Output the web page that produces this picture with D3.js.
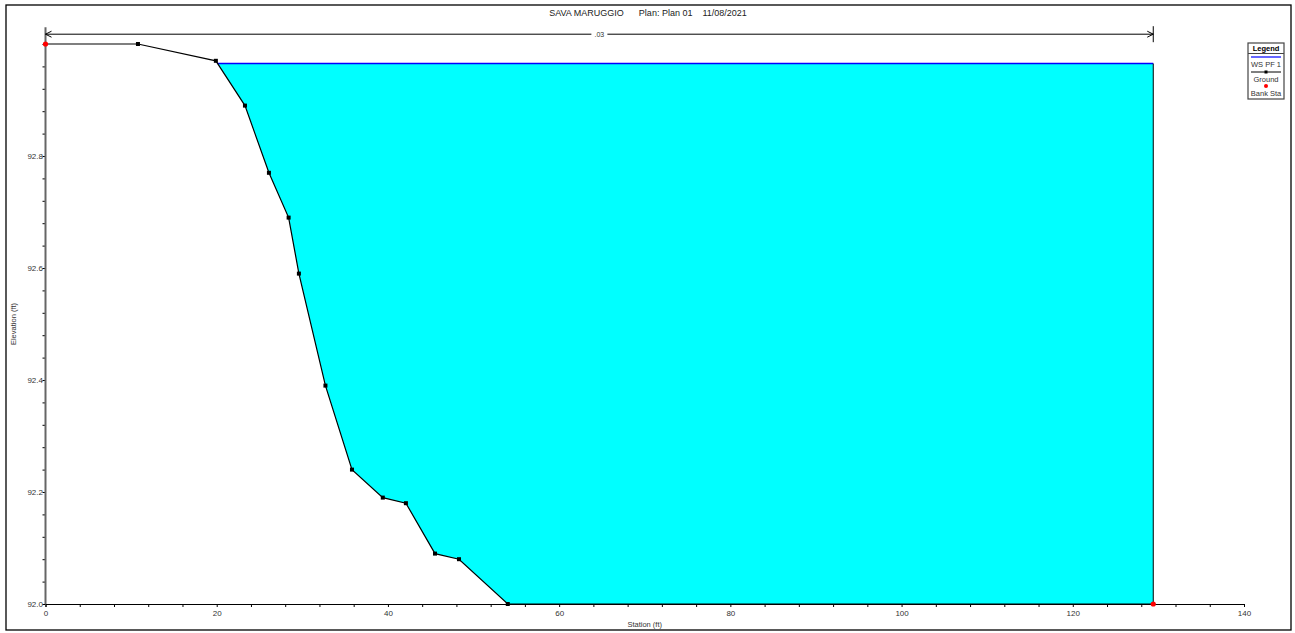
<!DOCTYPE html>
<html>
<head>
<meta charset="utf-8">
<script src="https://cdn.jsdelivr.net/npm/d3@7"></script>
<style>
  body { margin: 0; background: #fff; }
  text { font-family: "Liberation Sans", Arial, sans-serif; }
</style>
</head>
<body>
<script>
// ground points
var stations   = [0, 10.8, 19.9, 23.3, 26.1, 28.4, 29.6, 32.7, 35.8, 39.4, 42.1, 45.5, 48.3, 54.0, 129.4];
var elevations = [93.0, 93.0, 92.97, 92.89, 92.77, 92.69, 92.59, 92.39, 92.24, 92.19, 92.18, 92.09, 92.08, 92.0, 92.0];
var bankStations = [0, 129.4];
var wsElev = 92.965;
var nValue = ".03";
var xLabels = [0, 20, 40, 60, 80, 100, 120, 140];
var yLabels = [92.0, 92.2, 92.4, 92.6, 92.8];
var titleText = "SAVA MARUGGIO      Plan: Plan 01    11/08/2021";
var legendItems = ["WS PF 1", "Ground", "Bank Sta"];

var W = 1295, H = 633;
var svg = d3.select("body").append("svg").attr("width", W).attr("height", H);

var x = d3.scaleLinear().domain([0, 140]).range([45.5, 1244]);
var y = d3.scaleLinear().domain([92, 93]).range([604, 44]);
var yTop = 93.03;

// outer frame
svg.append("rect").attr("x", 6).attr("y", 5).attr("width", 1285).attr("height", 625)
  .attr("fill", "none").attr("stroke", "#000").attr("stroke-width", 1.3);

svg.append("text").attr("x", 648).attr("y", 16).attr("text-anchor", "middle")
  .attr("font-size", 9).attr("fill", "#222").style("white-space", "pre")
  .attr("xml:space", "preserve").text(titleText);

var ground = stations.map(function (s, i) { return [s, elevations[i]]; });

// water polygon: ground under the WS level, closed along the WS line
function wetPolygon() {
  var pts = [];
  for (var i = 0; i < ground.length; i++) {
    var a = ground[i];
    if (a[1] <= wsElev) pts.push(a);
    if (i < ground.length - 1) {
      var b = ground[i + 1];
      if ((a[1] - wsElev) * (b[1] - wsElev) < 0) {
        var t = (wsElev - a[1]) / (b[1] - a[1]);
        pts.push([a[0] + t * (b[0] - a[0]), wsElev]);
      }
    }
  }
  var first = pts[0], last = pts[pts.length - 1];
  if (last[1] < wsElev) pts.push([last[0], wsElev]);
  if (first[1] < wsElev) pts.unshift([first[0], wsElev]);
  return pts;
}
var wet = wetPolygon();
var line = d3.line().x(function (d) { return x(d[0]); }).y(function (d) { return y(d[1]); });

svg.append("path").attr("d", line(wet) + "Z").attr("fill", "#00ffff").attr("stroke", "none");
svg.append("line")
  .attr("x1", x(wet[0][0])).attr("x2", x(wet[wet.length - 1][0]))
  .attr("y1", y(wsElev)).attr("y2", y(wsElev))
  .attr("stroke", "#0000ff").attr("stroke-width", 1.5);
svg.append("line")
  .attr("x1", x(wet[wet.length - 1][0])).attr("x2", x(wet[wet.length - 1][0]))
  .attr("y1", y(wsElev)).attr("y2", y(92))
  .attr("stroke", "#000").attr("stroke-width", 1);

// axes
var xAxis = d3.axisBottom(x).tickValues(d3.range(0, 141, 4)).tickSize(3)
  .tickFormat(function (d) { return xLabels.indexOf(d) >= 0 ? d : ""; });
var gx = svg.append("g").attr("transform", "translate(0," + y(92) + ")").call(xAxis);
gx.select(".domain").attr("stroke", "#000");
gx.selectAll("text").attr("font-size", 8).attr("fill", "#333").attr("dy", "0.7em").attr("font-family", "Liberation Sans, Arial");

var yAxis = d3.axisLeft(y).tickValues(d3.range(0, 26).map(function (i) { return +(92 + i * 0.04).toFixed(2); })).tickSize(3)
  .tickFormat(function (d) {
    return yLabels.some(function (v) { return Math.abs(v - d) < 1e-6; }) ? d.toFixed(1) : "";
  });
var gy = svg.append("g").attr("transform", "translate(" + x(0) + ",0)").call(yAxis);
gy.select(".domain").remove();
gy.selectAll("text").attr("font-size", 8).attr("fill", "#333").attr("x", -2.5).attr("font-family", "Liberation Sans, Arial");
svg.append("line").attr("x1", x(0)).attr("x2", x(0)).attr("y1", y(yTop)).attr("y2", y(92))
  .attr("stroke", "#666").attr("stroke-width", 2);

svg.append("text").attr("x", (x(0) + x(140)) / 2).attr("y", 627).attr("text-anchor", "middle")
  .attr("font-size", 7.5).attr("fill", "#333").text("Station (ft)");
svg.append("text").attr("transform", "translate(16," + y(92.5) + ") rotate(-90)")
  .attr("text-anchor", "middle").attr("font-size", 7.5).attr("fill", "#333").text("Elevation (ft)");

// ground line + markers
svg.append("path").attr("d", line(ground)).attr("fill", "none").attr("stroke", "#000").attr("stroke-width", 1.2);
svg.selectAll("rect.gm").data(ground.slice(1, ground.length - 1)).enter().append("rect")
  .attr("class", "gm")
  .attr("x", function (d) { return x(d[0]) - 2; }).attr("y", function (d) { return y(d[1]) - 2; })
  .attr("width", 4).attr("height", 4).attr("fill", "#000");

// bank stations
svg.selectAll("circle.bank").data(bankStations).enter().append("circle")
  .attr("class", "bank")
  .attr("cx", function (d) { return x(d); })
  .attr("cy", function (d) {
    var i = stations.indexOf(d);
    return y(elevations[i]);
  })
  .attr("r", 2.6).attr("fill", "#ff0000");

// manning's n line
var ny = y(yTop) + 7;
var nx0 = x(bankStations[0]), nx1 = x(bankStations[1]);
var ng = svg.append("g");
ng.append("line").attr("x1", nx0).attr("x2", nx1).attr("y1", ny).attr("y2", ny).attr("stroke", "#000").attr("stroke-width", 1);
ng.append("path").attr("d", "M" + (nx0 + 6) + "," + (ny - 3) + "L" + nx0 + "," + ny + "L" + (nx0 + 6) + "," + (ny + 3))
  .attr("fill", "none").attr("stroke", "#000");
ng.append("path").attr("d", "M" + (nx1 - 6) + "," + (ny - 3) + "L" + nx1 + "," + ny + "L" + (nx1 - 6) + "," + (ny + 3))
  .attr("fill", "none").attr("stroke", "#000");
ng.append("line").attr("x1", nx1).attr("x2", nx1).attr("y1", ny - 8).attr("y2", ny + 8).attr("stroke", "#000");
var nMid = (nx0 + nx1) / 2;
ng.append("rect").attr("x", nMid - 8).attr("y", ny - 4).attr("width", 16).attr("height", 8).attr("fill", "#fff");
ng.append("text").attr("x", nMid).attr("y", ny + 2.5).attr("text-anchor", "middle").attr("font-size", 7).attr("fill", "#333").text(nValue);

// legend
var lg = svg.append("g").attr("transform", "translate(1248,43)");
lg.append("rect").attr("width", 36).attr("height", 56).attr("fill", "#fff").attr("stroke", "#444").attr("stroke-width", 1.2);
lg.append("text").attr("x", 18).attr("y", 8).attr("text-anchor", "middle").attr("font-size", 7.5).attr("font-weight", "bold").text("Legend");
lg.append("line").attr("x1", 0).attr("x2", 36).attr("y1", 10.5).attr("y2", 10.5).attr("stroke", "#444");
lg.append("line").attr("x1", 3).attr("x2", 33).attr("y1", 14).attr("y2", 14).attr("stroke", "#0000ff").attr("stroke-width", 1.2);
lg.append("line").attr("x1", 3).attr("x2", 33).attr("y1", 29).attr("y2", 29).attr("stroke", "#000").attr("stroke-width", 1);
lg.append("rect").attr("x", 16.5).attr("y", 27.5).attr("width", 3).attr("height", 3).attr("fill", "#000");
lg.append("circle").attr("cx", 18).attr("cy", 43).attr("r", 2).attr("fill", "#ff0000");
lg.selectAll("text.it").data(legendItems).enter().append("text").attr("class", "it")
  .attr("x", 18).attr("y", function (d, i) { return 24 + i * 14.5; })
  .attr("text-anchor", "middle").attr("font-size", 7.5).attr("fill", "#333").text(function (d) { return d; });
</script>
</body>
</html>
